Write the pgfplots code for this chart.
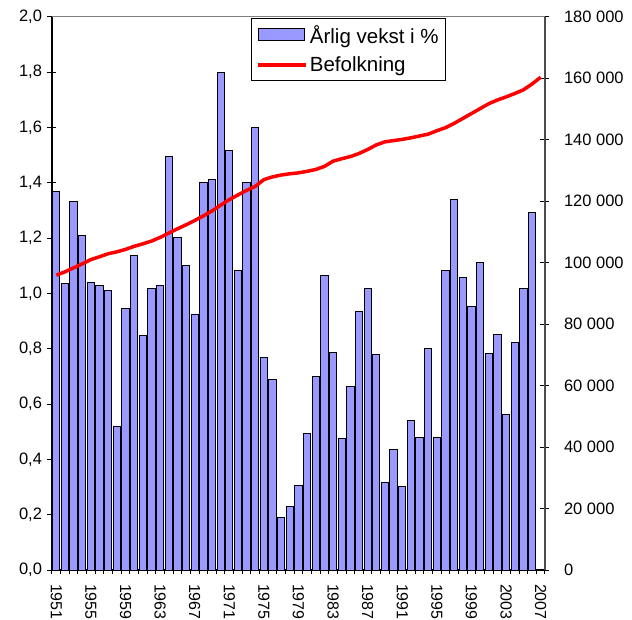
\documentclass[border=0pt]{standalone}
\usepackage{fontspec}
\setmainfont{Liberation Sans}
\usepackage{pgfplots}
\pgfplotsset{compat=1.18}
\definecolor{barblue}{RGB}{153,153,255}
\pgfplotsset{
  popleg/.style={legend image code/.code={\draw[##1] (0pt,0pt) -- (48pt,0pt);}},
  barleg/.style={legend image code/.code={\draw[fill=barblue, draw=black, line width=1pt] (0pt,-6pt) rectangle (46pt,6pt);}}
}

\begin{document}
\begin{tikzpicture}
\path[use as bounding box] (-52pt,-49pt) rectangle (580pt,570pt);

% ---- bars: yearly growth in % (left axis) ----
\begin{axis}[
  at={(0pt,0pt)}, anchor=south west,
  width=493pt, height=553.3pt, scale only axis,
  xmin=1950.5, xmax=2007.5,
  ymin=0, ymax=2,
  axis x line=bottom, axis y line=left,
  axis line style={-, black, line width=1.2pt},
  xtick={1951,1955,...,2007},
  xticklabels={1951,1955,1959,1963,1967,1971,1975,1979,1983,1987,1991,1995,1999,2003,2007},
  major x tick style={draw=none},
  minor xtick={1950.5,1951.5,...,2007.5},
  minor x tick style={black, line width=1pt, yshift=-1.5pt},
  minor tick length=5pt,
  ytick={0,0.2,...,2.01},
  major tick length=9pt,
  tick align=center,
  y tick style={black, line width=1pt},
  /pgf/number format/assume math mode=true,
  yticklabel style={font=\fontsize{16.5}{17}\selectfont,
    /pgf/number format/.cd, fixed, fixed zerofill, precision=1, use comma},
  xticklabel style={rotate=-90, anchor=west, font=\fontsize{16}{17}\selectfont},
  xticklabel shift=6pt,
  yticklabel shift=2pt,
  clip=false]
\addplot[ybar, bar width=7.3pt, fill=barblue, draw=black, line width=1pt]
  coordinates {
  (1951,1.367) (1952,1.034) (1953,1.331) (1954,1.210) (1955,1.039)
  (1956,1.029) (1957,1.010) (1958,0.518) (1959,0.946) (1960,1.136)
  (1961,0.849) (1962,1.016) (1963,1.029) (1964,1.493) (1965,1.201)
  (1966,1.099) (1967,0.923) (1968,1.400) (1969,1.410) (1970,1.800)
  (1971,1.516) (1972,1.081) (1973,1.400) (1974,1.600) (1975,0.769)
  (1976,0.687) (1977,0.190) (1978,0.231) (1979,0.307) (1980,0.492)
  (1981,0.700) (1982,1.066) (1983,0.788) (1984,0.474) (1985,0.664)
  (1986,0.936) (1987,1.017) (1988,0.780) (1989,0.316) (1990,0.436)
  (1991,0.301) (1992,0.539) (1993,0.478) (1994,0.801) (1995,0.478)
  (1996,1.081) (1997,1.340) (1998,1.057) (1999,0.952) (2000,1.113)
  (2001,0.784) (2002,0.853) (2003,0.561) (2004,0.822) (2005,1.017)
  (2006,1.293)};
\end{axis}

% ---- line: population (right axis) ----
\begin{axis}[
  at={(0pt,0pt)}, anchor=south west,
  width=493pt, height=553.3pt, scale only axis,
  xmin=1950.5, xmax=2007.5,
  ymin=0, ymax=180000,
  axis x line=none, axis y line=right,
  axis line style={-, black!70, line width=1.2pt},
  scaled y ticks=false,
  ytick={0,20000,...,180000},
  yticklabels={0,20 000,40 000,60 000,80 000,100 000,120 000,140 000,160 000,180 000},
  major tick length=9pt,
  tick align=center,
  y tick style={black, line width=1pt},
  yticklabel style={font=\fontsize{16.5}{17}\selectfont},
  yticklabel shift=11pt,
  legend cell align=left,
  legend style={at={(0.4037,0.998)}, anchor=north west,
    draw=black, line width=0.8pt,
    font=\fontsize{20.5}{22}\selectfont,
    cells={anchor=west},
    inner xsep=5pt, inner ysep=5pt, row sep=8pt,
    /tikz/every even column/.append style={column sep=4pt}}]
\addlegendimage{barleg}
\addlegendentry{Årlig vekst i \%}
\addplot[red, line width=3.5pt, line join=round, popleg]
  coordinates {
  (1951,95900) (1952,97000) (1953,98300) (1954,99600) (1955,101000)
  (1956,101900) (1957,102900) (1958,103500) (1959,104300) (1960,105300)
  (1961,106100) (1962,107000) (1963,108200) (1964,109600) (1965,111000)
  (1966,112300) (1967,113700) (1968,115200) (1969,116800) (1970,118700)
  (1971,120500) (1972,122000) (1973,123500) (1974,124800) (1975,127000)
  (1976,127900) (1977,128500) (1978,128900) (1979,129200) (1980,129700)
  (1981,130300) (1982,131300) (1983,133000) (1984,133800) (1985,134500)
  (1986,135500) (1987,136800) (1988,138300) (1989,139300) (1990,139700)
  (1991,140100) (1992,140600) (1993,141200) (1994,141800) (1995,142900)
  (1996,143900) (1997,145300) (1998,146900) (1999,148500) (2000,150100)
  (2001,151700) (2002,152900) (2003,153900) (2004,155000) (2005,156200)
  (2006,158100) (2007,160300)};
\addlegendentry{Befolkning}
\draw[black!50, line width=0.8pt] (rel axis cs:0,1) -- (rel axis cs:1,1);
\end{axis}
\end{tikzpicture}
\end{document}
